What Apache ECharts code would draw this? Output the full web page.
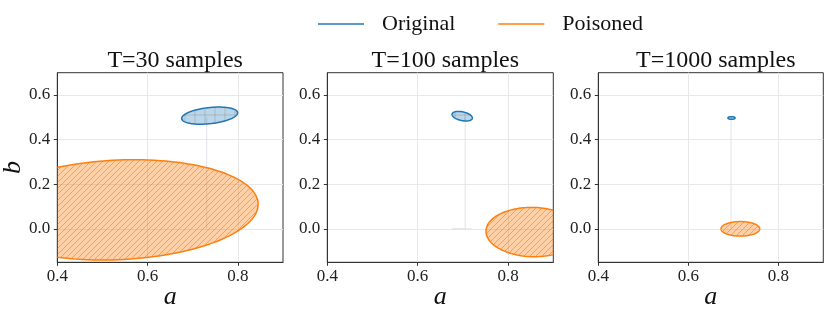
<!DOCTYPE html>
<html><head><meta charset="utf-8">
<script src="https://cdn.jsdelivr.net/npm/echarts@6/dist/echarts.min.js"></script>
<style>html,body{margin:0;padding:0;background:#fff}#c{width:830px;height:315px}</style>
</head><body><div id="c"></div>
<script>
// ---- data ----
const panelTitles = ['T=30 samples', 'T=100 samples', 'T=1000 samples'];
const seriesNames = ['Original', 'Poisoned'];
// confidence ellipses: [center a, center b, l11, l21, l22] (Cholesky-like shape factors)
const originalEllipses = [
  [0.7375, 0.5075, 0.062, 0.0125, 0.0364],
  [0.6985, 0.505, 0.0225, -0.008, 0.020],
  [0.696, 0.497, 0.008, 0.0, 0.006]
];
const poisonedEllipses = [
  [0.535, 0.085, 0.31, 0.025, 0.2236],
  [0.855, -0.0145, 0.104, -0.0035, 0.1104],
  [0.7157, 0.0, 0.043, 0.0, 0.0325]
];
// faint trace lines
const tracePaths = [
  [[0.731, 0.5], [0.731, 0.0]],
  [[0.705, 0.5], [0.705, 0.0], [0.677, 0.0], [0.72, 0.0]],
  [[0.695, 0.5], [0.695, 0.0]]
];
const xTicks = [0.4, 0.6, 0.8];
const yTicks = [0.0, 0.2, 0.4, 0.6];
const xRange = [0.4, 0.9];
const yRange = [-0.15, 0.7];

// ---- styling ----
const FONT = "'Liberation Serif', 'Times New Roman', serif";
const BLUE = '#1f77b4', ORANGE = '#ff7f0e';

function makePattern(kind, size) {
  const c = document.createElement('canvas');
  c.width = size; c.height = size;
  const g = c.getContext('2d');
  g.strokeStyle = kind === 'diag' ? 'rgba(120,120,120,0.5)' : 'rgba(110,110,110,0.35)';
  g.lineWidth = 0.8;
  g.beginPath();
  if (kind === 'diag') {
    g.moveTo(-1, size + 1); g.lineTo(size + 1, -1);
    g.moveTo(-1, 1); g.lineTo(1, -1);
    g.moveTo(size - 1, size + 1); g.lineTo(size + 1, size - 1);
  } else {
    g.moveTo(size / 2, 0); g.lineTo(size / 2, size);
    g.moveTo(0, size / 2); g.lineTo(size, size / 2);
  }
  g.stroke();
  return { image: c, repeat: 'repeat' };
}
const diagHatch = makePattern('diag', 6);
const plusHatch = makePattern('plus', 10);

const grids = [
  { left: 57.3, top: 72.7, width: 225.7, height: 189.6 },
  { left: 327.3, top: 72.7, width: 226, height: 189.6 },
  { left: 598.3, top: 72.7, width: 225, height: 189.6 }
].map(g => Object.assign(g, {
  show: true, borderColor: '#333', borderWidth: 1, backgroundColor: 'transparent',
  containLabel: false, outerBoundsMode: 'none'
}));

function ellipseRenderer(fillCol, hatch, strokeCol) {
  return function (params, api) {
    const cx = api.value(0), cy = api.value(1), l11 = api.value(2), l21 = api.value(3), l22 = api.value(4);
    const pts = [];
    const N = 144;
    for (let k = 0; k < N; k++) {
      const t = 2 * Math.PI * k / N;
      pts.push(api.coord([cx + l11 * Math.cos(t), cy + l21 * Math.cos(t) + l22 * Math.sin(t)]));
    }
    const cs = params.coordSys;
    return {
      type: 'group',
      clipPath: { type: 'rect', shape: { x: cs.x, y: cs.y, width: cs.width, height: cs.height } },
      children: [
        { type: 'polygon', shape: { points: pts }, style: { fill: fillCol } },
        { type: 'polygon', shape: { points: pts }, style: { fill: hatch } },
        { type: 'polygon', shape: { points: pts }, style: { fill: null, stroke: strokeCol, lineWidth: 1.5 } }
      ]
    };
  };
}

const xAxes = [], yAxes = [], series = [], titles = [];
for (let i = 0; i < 3; i++) {
  const g = grids[i];
  titles.push({
    text: panelTitles[i], left: g.left + g.width / 2, top: 44, textAlign: 'center',
    textStyle: { fontFamily: FONT, fontSize: 24, fontWeight: 'normal', color: '#111' }
  });
  xAxes.push({
    gridIndex: i, type: 'value', min: xRange[0], max: xRange[1],
    name: 'a', nameLocation: 'middle', nameGap: 22, nameMoveOverlap: false,
    nameTextStyle: { fontFamily: FONT, fontStyle: 'italic', fontSize: 26, color: '#111' },
    axisLine: { show: true, onZero: false, lineStyle: { color: '#333', width: 1 } },
    axisTick: { show: true, length: 3.5, customValues: xTicks, lineStyle: { color: '#333' } },
    axisLabel: { customValues: xTicks, formatter: v => v.toFixed(1), fontFamily: FONT, fontSize: 17, margin: 6, color: '#222' },
    splitLine: { show: true, lineStyle: { color: '#e8e8e8', width: 1 } }
  });
  yAxes.push({
    gridIndex: i, type: 'value', min: yRange[0], max: yRange[1],
    name: i === 0 ? 'b' : '', nameLocation: 'middle', nameGap: 31, nameMoveOverlap: false,
    nameTextStyle: { fontFamily: FONT, fontStyle: 'italic', fontSize: 26, color: '#111' },
    axisLine: { show: true, onZero: false, lineStyle: { color: '#333', width: 1 } },
    axisTick: { show: true, length: 3.5, customValues: yTicks, lineStyle: { color: '#333' } },
    axisLabel: { customValues: yTicks, formatter: v => v.toFixed(1), fontFamily: FONT, fontSize: 17, margin: 7, color: '#222' },
    splitLine: { show: true, lineStyle: { color: '#e8e8e8', width: 1 } }
  });
  series.push({
    name: 'trace' + i, type: 'line', xAxisIndex: i, yAxisIndex: i, data: tracePaths[i],
    symbol: 'none', silent: true, lineStyle: { color: '#dfe3ea', width: 1 }, z: 1
  });
  series.push({
    name: seriesNames[1], type: 'custom', xAxisIndex: i, yAxisIndex: i,
    color: ORANGE, itemStyle: { color: ORANGE },
    encode: { x: 0, y: 1 }, data: [poisonedEllipses[i]],
    renderItem: ellipseRenderer('rgba(255,127,14,0.37)', diagHatch, ORANGE), z: 2
  });
  series.push({
    name: seriesNames[0], type: 'custom', xAxisIndex: i, yAxisIndex: i,
    color: BLUE, itemStyle: { color: BLUE },
    encode: { x: 0, y: 1 }, data: [originalEllipses[i]],
    renderItem: ellipseRenderer('rgba(31,119,180,0.3)', plusHatch, BLUE), z: 3
  });
}

const chart = echarts.init(document.getElementById('c'), null, { renderer: 'canvas' });
chart.setOption({
  animation: false,
  backgroundColor: '#fff',
  title: titles,
  legend: {
    left: 313, top: 8, icon: 'rect', itemWidth: 46, itemHeight: 1.6, itemGap: 43,
    data: [
      { name: seriesNames[0], itemStyle: { color: BLUE } },
      { name: seriesNames[1], itemStyle: { color: ORANGE } }
    ],
    textStyle: { fontFamily: FONT, fontSize: 22, color: '#111', padding: [0, 0, 0, 13] }
  },
  grid: grids,
  xAxis: xAxes,
  yAxis: yAxes,
  series: series
});
</script></body></html>
